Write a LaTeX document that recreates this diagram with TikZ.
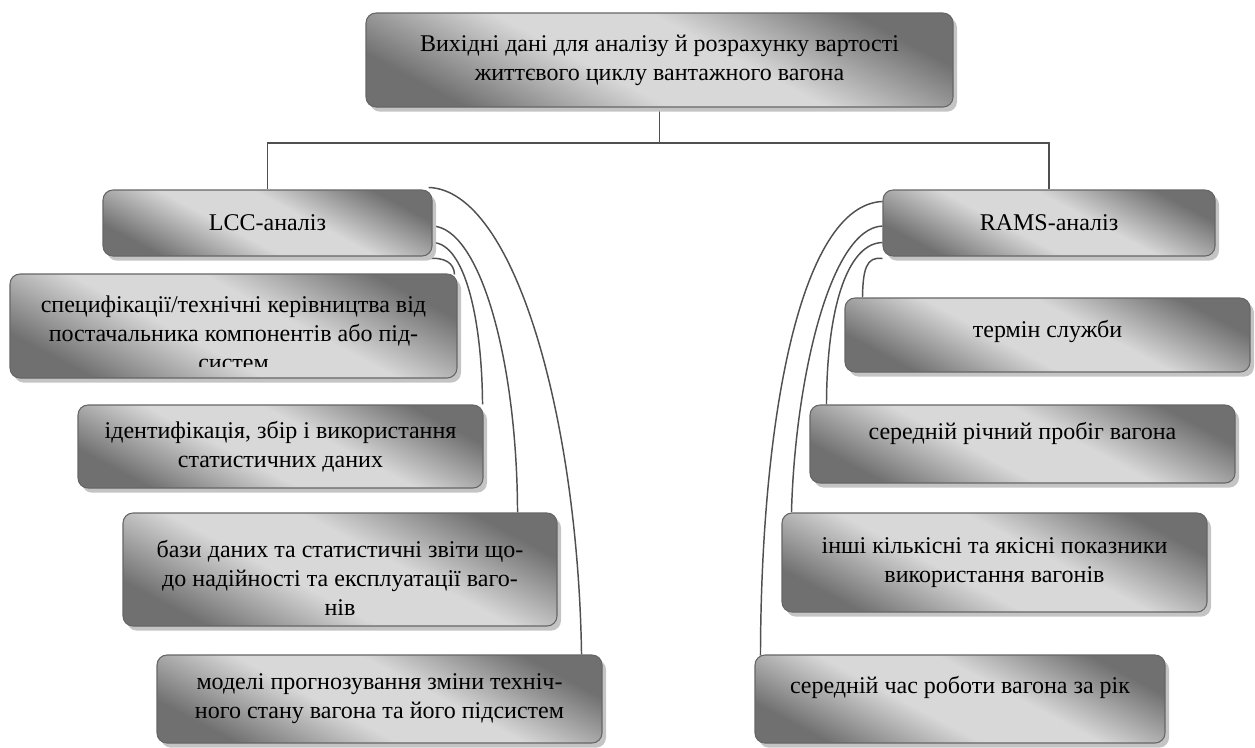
\documentclass[tikz,border=0pt]{standalone}
\usepackage{fontspec}
\setmainfont{Liberation Serif}
\usetikzlibrary{calc,shadows}
\definecolor{dk}{HTML}{707070}
\definecolor{lt}{HTML}{D8D8D8}
\definecolor{edgec}{HTML}{666666}
\definecolor{linkc}{HTML}{505050}
\definecolor{shd}{HTML}{C4C4C4}
\pgfdeclarehorizontalshading{boxshade}{100bp}{color(0bp)=(dk); color(25bp)=(dk); color(43bp)=(lt); color(57bp)=(lt); color(75bp)=(dk); color(100bp)=(dk)}
\pgfdeclarelayer{bg}
\pgfsetlayers{bg,main}
\tikzset{
 box/.style={rectangle, rounded corners=7.5pt, draw=edgec, line width=0.8pt,
   shading=boxshade, shading angle=62, inner sep=0pt, align=center,
   font=\fontsize{18}{21.75}\selectfont,
   drop shadow={shadow xshift=3pt, shadow yshift=-3.5pt, fill=shd, opacity=1}},
 txt/.style={inner sep=0pt, align=center, font=\fontsize{18}{21.75}\selectfont},
 link/.style={draw=linkc, line width=1.1pt},
}
\begin{document}
\begin{tikzpicture}[x=0.75pt,y=-0.75pt]
\useasboundingbox (0,0) rectangle (1255,747);
% boxes
\node[box, minimum width=440.25pt, minimum height=70.5pt] (top) at (659.5,60)
  {Вихідні дані для аналізу й розрахунку вартості\\життєвого циклу вантажного вагона};
\node[box, minimum width=246.75pt, minimum height=49.5pt] (lcc) at (267.5,223) {LCC-аналіз};
\node[box, minimum width=249pt, minimum height=49.5pt] (rams) at (1049,223) {RAMS-аналіз};
\node[box, minimum width=335.25pt, minimum height=78pt] (spec) at (233.5,326) {};
\begin{scope}
  \clip (10,274) rectangle (457,366);
  \node[txt] (spectext) at (233.5,333)
    {специфікації/технічні керівництва від\\постачальника компонентів або під-\\систем};
\end{scope}
\node[box, minimum width=303.75pt, minimum height=62.25pt] (ident) at (280.5,446.5)
  {ідентифікація, збір і використання\\статистичних даних};
\node[box, minimum width=325.5pt, minimum height=84.75pt] (bazy) at (340,569.5)
  {\rule{0pt}{25.25pt}бази даних та статистичні звіти що-\\до надійності та експлуатації ваго-\\нів};
\node[box, minimum width=333.75pt, minimum height=66pt] (model) at (379.5,699)
  {моделі прогнозування зміни техніч-\\ного стану вагона та його підсистем};
\node[box, minimum width=303.75pt, minimum height=55.5pt] (term) at (1047.5,335)
  {термін служби\rule[-9pt]{0pt}{9pt}};
\node[box, minimum width=318.75pt, minimum height=58.5pt] (richn) at (1022.5,444)
  {середній річний пробіг вагона\rule[-19pt]{0pt}{19pt}};
\node[box, minimum width=318.75pt, minimum height=74.25pt] (inshi) at (994.5,562.5)
  {інші кількісні та якісні показники\\використання вагонів};
\node[box, minimum width=307.5pt, minimum height=66pt] (chas) at (960,699)
  {середній час роботи вагона за рік\rule[-20.5pt]{0pt}{20.5pt}};
\coordinate (bus) at (659.5,143);
\begin{pgfonlayer}{bg}
\draw[link] (top.south) -- (bus);
\draw[link] (lcc.north) |- (bus) -| (rams.north);
% left curves
\draw[link] ($(lcc.north east)+(-4,-2)$) .. controls (515,190) and (578,420) .. ($(model.north east)+(-21,0)$);
\draw[link] ($(lcc.east)+(0,3)$) .. controls (480,228) and (517,360) .. ($(bazy.north east)+(-40,0)$);
\draw[link] ($(lcc.south east)+(0,-14)$) .. controls (465,243) and (482,320) .. ($(ident.north east)+(-1,0)$);
\draw[link] ($(lcc.south east)+(-5,2)$) .. controls (445,257) and (454,263) .. ($(spec.north east)+(-3,1)$);
% right curves
\draw[link] ($(rams.north west)+(0,12)$) .. controls (800,205) and (761,420) .. ($(chas.north west)+(6,1)$);
\draw[link] ($(rams.west)+(0,3)$) .. controls (830,228) and (795,380) .. ($(inshi.north west)+(10,0)$);
\draw[link] ($(rams.south west)+(0,-14)$) .. controls (850,243) and (827,300) .. ($(richn.north west)+(17,0)$);
\draw[link] ($(rams.south west)+(0,2)$) .. controls (866,256) and (863,270) .. ($(term.north west)+(18,0)$);
\end{pgfonlayer}
\end{tikzpicture}
\end{document}
